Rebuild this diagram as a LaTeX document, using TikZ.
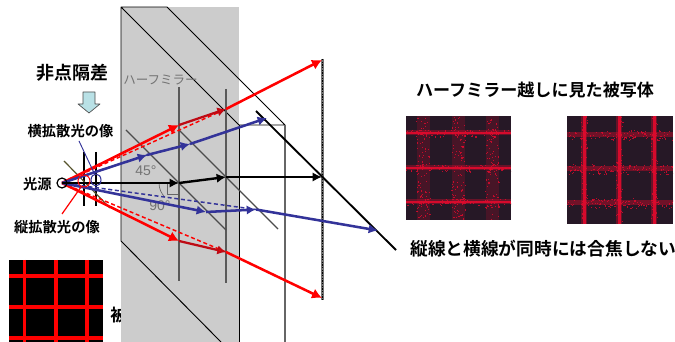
\documentclass[tikz,border=0pt]{standalone}
\usepackage{fontspec}
\usetikzlibrary{arrows.meta,calc}
\setmainfont{Liberation Sans}
\newfontfamily\cjk[BoldFont=Noto Sans CJK JP Bold]{Noto Sans CJK JP}
\definecolor{rayred}{RGB}{255,0,0}
\definecolor{dkred}{RGB}{190,10,20}
\definecolor{rayblue}{RGB}{51,51,153}
\definecolor{mirrorgray}{RGB}{204,204,204}
\definecolor{photobg}{RGB}{38,24,38}
\definecolor{photored}{RGB}{225,10,45}
\definecolor{paleblue}{RGB}{185,225,230}
\tikzset{
  lab/.style={font=\cjk\bfseries\fontsize{#1}{#1}\selectfont,inner sep=0pt,text=black},
  glab/.style={font=\cjk\fontsize{9.4}{9.4}\selectfont,inner sep=0pt,text=black!55},
  deg/.style={font=\fontsize{10.5}{10.5}\selectfont,inner sep=0pt,text=black!55},
  thinblk/.style={draw=black,line width=0.7pt},
  redray/.style={draw=rayred,line width=1.9pt,-{Latex[length=7.5pt,width=8pt]}},
  dkray/.style={draw=dkred,line width=1.7pt,-{Latex[length=6.5pt,width=7pt,fill=rayred]}},
  reddash/.style={draw=rayred,line width=1.1pt,dash pattern=on 3pt off 2pt},
  blueray/.style={draw=rayblue,line width=1.9pt,-{Latex[length=7pt,width=7pt]}},
  bluedash/.style={draw=rayblue,line width=1.1pt,dash pattern=on 3pt off 2pt},
  blkray/.style={draw=black,line width=1.8pt,-{Latex[length=7pt,width=7pt]}},
  mirror/.style={draw=black!65,line width=1.3pt},
  diag/.style={draw=black!70,line width=0.8pt},
}
\newcommand{\noisyband}[5]{% x0 y0 w h n : random dots in box
  \foreach \ii in {1,...,#5}{
    \pgfmathsetmacro{\dx}{#1+rnd*#3}
    \pgfmathsetmacro{\dy}{#2+rnd*#4}
    \fill[photored,opacity=.8] (\dx,\dy) rectangle +(1.1,1.1);
  }
}
\begin{document}
\begin{tikzpicture}[x=0.75pt,y=-0.75pt,line join=round]
\useasboundingbox (0,0) rectangle (675,342);
\pgfmathsetseed{7}
\fill[white] (0,0) rectangle (675,342);

% label mostly hidden by the mirror volume
\node[lab=12.8,anchor=west] (hid) at (110,315) {被写体};

% bottom-left pattern
\fill[black] (9,260) rectangle (103,342);
\foreach \x in {24.5,56,87}{\draw[rayred,line width=2.5pt] (\x,260) -- (\x,342);}
\foreach \y in {276,307,338}{\draw[rayred,line width=2.5pt] (9,\y) -- (103,\y);}

% half mirror volume
\fill[mirrorgray] (121,7) rectangle (238.7,342);
\draw[thinblk] (121,241) -- (121,7) -- (167,7) -- (285,125) -- (239,125) -- (121,7);
\draw[thinblk] (239,125) -- (239,342);
\draw[draw=black!60,line width=1.1pt] (285,125) -- (285,342);
\draw[thinblk] (121,241) -- (221,342);

\node[glab,anchor=west] (hm) at (123,80) {ハーフミラー};

% mirrors and planes
\draw[mirror] (179,87) -- (179,281);
\draw[mirror] (226,89) -- (226,283);
\draw[diag] (126,130) -- (226,230);
\draw[diag] (179,130) -- (278,229);
\draw[draw=black!55,line width=1.6pt] (322.5,59) -- (322.5,300);
\draw[draw=black,line width=1pt,dash pattern=on 1pt off 1pt] (322.5,59) -- (322.5,300);
\draw[draw=black,line width=1.4pt] (256,111) -- (396,250);

% small lens lines
\draw[draw=black,line width=0.8pt] (84,152) -- (84,206);
\draw[draw=black,line width=0.8pt] (96,152) -- (96,206);
\draw[draw=black!50!olive,line width=0.9pt] (64,161) -- (110,208);

% angle marks
\draw[draw=black!60,line width=0.5pt] (159,183) arc[start angle=180,end angle=135,radius=20];
\draw[draw=black!60,line width=0.5pt] (167,183) -- (167,194) -- (178,194);
\node[deg] (a45) at (146,171) {45°};
\node[deg] (a90) at (160,206) {90°};

% ray coordinates
\coordinate (S) at (62,183);
\coordinate (rt1) at (179,125);
\coordinate (rt2) at (226,109);
\coordinate (rt3) at (322,60);
\coordinate (rb1) at (179,241);
\coordinate (rb2) at (226,252);
\coordinate (rb3) at (322,298);
\coordinate (bt1) at (147,155);
\coordinate (bt2) at (190,144);
\coordinate (bt3) at (267,118);
\coordinate (bb1) at (206,212);
\coordinate (bb2) at (256,209.5);
\coordinate (bb3) at (378,230.5);
\coordinate (k1) at (179,183);
\coordinate (k2) at (226,177);
\coordinate (k3) at (322,177);

\draw[reddash] (S) -- (rt2);
\draw[reddash] (S) -- (rb2);
\draw[bluedash] (S) -- (bt1) -- (bt2);
\draw[bluedash] (S) -- (bb2);

\draw[redray] (S) -- (rt1);
\draw[dkray] (rt1) -- (rt2);
\draw[redray] (rt2) -- (rt3);
\draw[redray] (S) -- (rb1);
\draw[dkray] (rb1) -- (rb2);
\draw[redray] (rb2) -- (rb3);

\draw[blueray] (S) -- (bt1);
\draw[blueray] (bt1) -- (bt2);
\draw[blueray] (bt2) -- (bt3);
\draw[blueray] (S) -- (bb1);
\draw[blueray] (bb1) -- (bb2);
\draw[blueray] (bb2) -- (bb3);

\draw[blkray] (S) -- (k1);
\draw[blkray] (k1) -- (k2);
\draw[blkray] (k2) -- (k3);

% source and blur circles
\node[circle,draw=black,line width=0.9pt,fill=none,minimum size=7.5pt,inner sep=0pt] (src) at (62,183) {};
\draw[draw=rayred,line width=0.8pt] (84,181) ellipse (6 and 6);
\draw[draw=rayblue,line width=0.8pt] (96,180) ellipse (5 and 6);

% labels left
\node[lab=13.5] (t1) at (72.5,73) {非点隔差};
\draw[draw=black!70,line width=0.5pt,fill=paleblue]
  (83,92) -- (95,92) -- (95,104) -- (100,104) -- (89,113) -- (78,104) -- (83,104) -- cycle;
\node[lab=10.7] (t2) at (70.5,131) {横拡散光の像};
\node[lab=10.7] (t3) at (37.5,184) {光源};
\node[lab=10.7] (t4) at (57,227.5) {縦拡散光の像};
\coordinate (blueTip) at (95,175);
\coordinate (blueFoot) at (79,141);
\coordinate (redTip) at (81,187);
\coordinate (redFoot) at (62,214);
\draw[draw=rayblue,line width=0.7pt] (blueFoot) -- (blueTip);
\draw[draw=rayred,line width=0.9pt] (redFoot) -- (redTip);

% right labels
\node[lab=12.8] (t5) at (535,90) {ハーフミラー越しに見た被写体};
\node[lab=13.3,anchor=west] (t6) at (410,249) {縦線と横線が同時には合焦しない};

% left photo: sharp horizontals, blurred verticals
\begin{scope}
\clip (406,116) rectangle (511,220);
\fill[photobg] (406,116) rectangle (511,220);
\foreach \x in {423,458,492}{
  \fill[photored,opacity=.18] (\x-6.5,116) rectangle (\x+6.5,220);
  \noisyband{\x-7}{116}{14}{104}{100}
}
\foreach \y in {133,168,202}{
  \fill[photored,opacity=.35] (406,\y-2.5) rectangle (511,\y+2.5);
  \fill[photored,opacity=.9] (406,\y-1.2) rectangle (511,\y+1.2);
  \noisyband{406}{\y-3.5}{105}{7}{70}
}
\end{scope}

% right photo: sharp verticals, blurred horizontals
\begin{scope}
\clip (567,116) rectangle (673,224);
\fill[photobg] (567,116) rectangle (673,224);
\foreach \y in {135,169,203}{
  \fill[photored,opacity=.4] (567,\y-2.5) rectangle (673,\y+2.5);
  \noisyband{567}{\y-5}{106}{10}{110}
}
\foreach \x in {584,619,654}{
  \fill[photored,opacity=.35] (\x-3,116) rectangle (\x+3,224);
  \fill[photored,opacity=.9] (\x-1.5,116) rectangle (\x+1.5,224);
  \noisyband{\x-3.5}{116}{7}{108}{60}
}
\end{scope}
\end{tikzpicture}
\end{document}
